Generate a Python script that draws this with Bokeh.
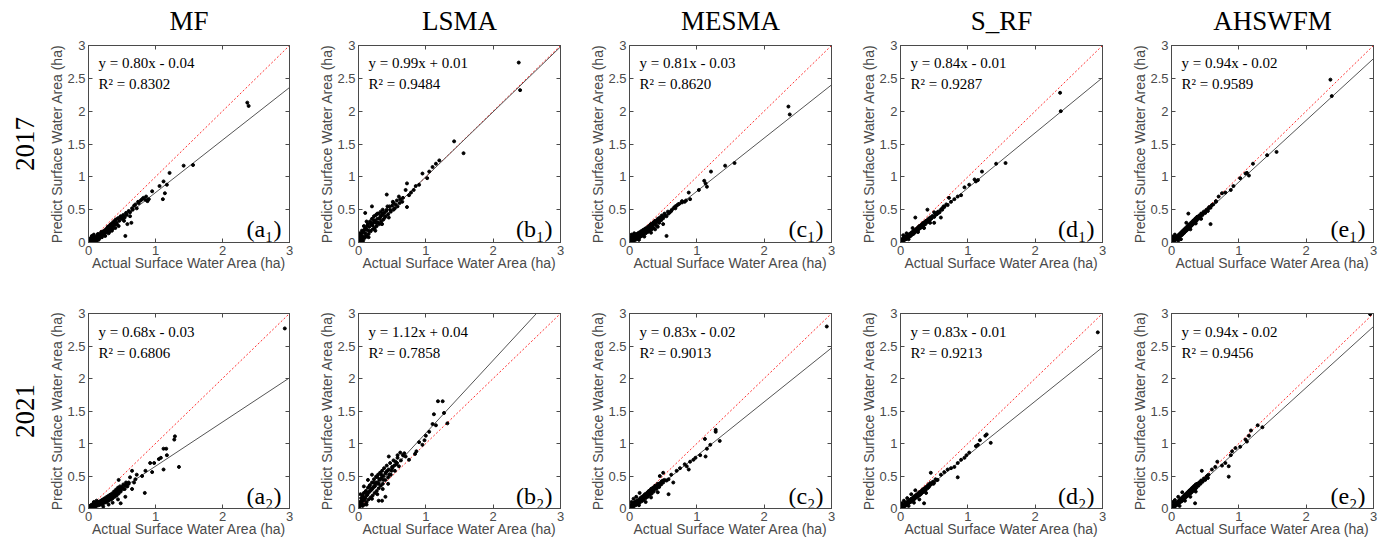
from bokeh.plotting import figure
from bokeh.layouts import column, row
from bokeh.models import (Range1d, LinearAxis, Title, FixedTicker, NumeralTickFormatter,
                          CustomLabelingPolicy)
from bokeh.core.properties import value
from bokeh.embed import file_html
from bokeh.resources import INLINE

methods = ["MF", "LSMA", "MESMA", "S_RF", "AHSWFM"]
years = ["2017", "2021"]
letters = ["a", "b", "c", "d", "e"]
subs = ["\u2081", "\u2082"]

slopes_2017 = [0.80, 0.99, 0.81, 0.84, 0.94]
inter_2017 = [-0.04, 0.01, -0.03, -0.01, -0.02]
r2_2017 = ["0.8302", "0.9484", "0.8620", "0.9287", "0.9589"]
slopes_2021 = [0.68, 1.12, 0.83, 0.83, 0.94]
inter_2021 = [-0.03, 0.04, -0.02, -0.01, -0.02]
r2_2021 = ["0.6806", "0.7858", "0.9013", "0.9213", "0.9456"]

x_ticks = [0, 1, 2, 3]
y_ticks = [0, 0.5, 1, 1.5, 2, 2.5, 3]
axis_limits = [0, 3]

# (actual, predicted) pairs
a1_pts = [(2.37, 2.13), (2.39, 2.08), (1.56, 1.18), (1.42, 1.17), (1.21, 1.06), (1.17, 0.88), (1.12, 0.93),
          (1.06, 0.86), (1.14, 0.75), (1.11, 0.66), (0.95, 0.78), (0.55, 0.10), (0.88, 0.63), (0.85, 0.65),
          (0.80, 0.66), (0.75, 0.60), (0.72, 0.52), (0.62, 0.40), (0.64, 0.30), (0.58, 0.28),
          (0.02, 0.01), (0.03, 0.05), (0.04, 0.02), (0.05, 0.08), (0.06, 0.03), (0.07, 0.04), (0.08, 0.06),
          (0.09, 0.02), (0.10, 0.07), (0.11, 0.05), (0.12, 0.09), (0.13, 0.06), (0.14, 0.10), (0.15, 0.07),
          (0.16, 0.12), (0.17, 0.09), (0.18, 0.13), (0.19, 0.10), (0.20, 0.15), (0.21, 0.12), (0.22, 0.17),
          (0.23, 0.13), (0.24, 0.18), (0.25, 0.15), (0.26, 0.20), (0.27, 0.16), (0.28, 0.22), (0.29, 0.18),
          (0.30, 0.24), (0.31, 0.20), (0.32, 0.26), (0.33, 0.22), (0.34, 0.28), (0.35, 0.24), (0.36, 0.30),
          (0.37, 0.26), (0.38, 0.32), (0.39, 0.27), (0.40, 0.34), (0.42, 0.30), (0.44, 0.37), (0.46, 0.33),
          (0.48, 0.40), (0.50, 0.36), (0.52, 0.42), (0.54, 0.38), (0.56, 0.45), (0.60, 0.48), (0.65, 0.52),
          (0.68, 0.56), (0.70, 0.58), (0.74, 0.62), (0.78, 0.64), (0.82, 0.68), (0.86, 0.70), (0.90, 0.66),
          (0.05, 0.10), (0.08, 0.12), (0.01, 0.06), (0.12, 0.03), (0.20, 0.08), (0.30, 0.14), (0.40, 0.22),
          (0.45, 0.25), (0.35, 0.18), (0.25, 0.10), (0.15, 0.04),
          (0.03, 0.00), (0.06, 0.06), (0.09, 0.08), (0.11, 0.02), (0.14, 0.13), (0.16, 0.06), (0.19, 0.16),
          (0.22, 0.14), (0.24, 0.11), (0.27, 0.19), (0.29, 0.24), (0.31, 0.16), (0.33, 0.27), (0.36, 0.21),
          (0.38, 0.29), (0.41, 0.35), (0.43, 0.27), (0.47, 0.38), (0.51, 0.40), (0.53, 0.33), (0.57, 0.42),
          (0.62, 0.46), (0.66, 0.50)]

b1_pts = [(2.38, 2.74), (2.40, 2.32), (1.42, 1.54), (1.56, 1.36), (1.20, 1.25), (1.15, 1.20), (1.10, 1.15),
          (1.05, 1.08), (1.02, 0.98), (0.95, 1.05), (0.90, 0.88), (0.85, 0.86), (0.82, 0.80), (0.78, 0.76),
          (0.72, 0.90), (0.75, 0.72), (0.72, 0.54), (0.42, 0.73), (0.10, 0.45), (0.20, 0.55), (0.52, 0.60),
          (0.60, 0.70), (0.65, 0.62), (0.70, 0.80),
          (0.01, 0.02), (0.02, 0.08), (0.03, 0.04), (0.04, 0.12), (0.05, 0.06), (0.06, 0.15), (0.07, 0.09),
          (0.08, 0.18), (0.09, 0.07), (0.10, 0.14), (0.11, 0.22), (0.12, 0.10), (0.13, 0.19), (0.14, 0.28),
          (0.15, 0.13), (0.16, 0.24), (0.17, 0.32), (0.18, 0.17), (0.19, 0.27), (0.20, 0.36), (0.21, 0.20),
          (0.22, 0.30), (0.23, 0.40), (0.24, 0.22), (0.25, 0.33), (0.26, 0.42), (0.27, 0.25), (0.28, 0.36),
          (0.29, 0.30), (0.30, 0.44), (0.31, 0.28), (0.32, 0.38), (0.33, 0.47), (0.34, 0.32), (0.35, 0.42),
          (0.36, 0.50), (0.37, 0.35), (0.38, 0.45), (0.40, 0.40), (0.42, 0.50), (0.44, 0.43), (0.46, 0.55),
          (0.48, 0.47), (0.50, 0.56), (0.52, 0.50), (0.55, 0.58), (0.58, 0.55), (0.62, 0.66), (0.66, 0.68),
          (0.05, 0.02), (0.15, 0.08), (0.25, 0.18), (0.35, 0.28), (0.45, 0.38), (0.02, 0.14), (0.08, 0.25),
          (0.12, 0.32),
          (0.03, 0.10), (0.05, 0.18), (0.07, 0.03), (0.09, 0.20), (0.11, 0.09), (0.13, 0.26), (0.16, 0.18),
          (0.18, 0.30), (0.21, 0.26), (0.23, 0.34), (0.26, 0.30), (0.28, 0.44), (0.31, 0.36), (0.33, 0.40),
          (0.36, 0.44), (0.39, 0.38), (0.41, 0.48), (0.43, 0.55), (0.47, 0.50), (0.51, 0.62), (0.54, 0.52),
          (0.57, 0.64), (0.61, 0.60)]

c1_pts = [(2.36, 2.07), (2.38, 1.95), (1.56, 1.21), (1.42, 1.17), (1.21, 1.08), (1.15, 0.85), (1.13, 0.90),
          (1.11, 0.94), (1.03, 0.80), (0.90, 0.66), (0.88, 0.76), (0.55, 0.10), (0.82, 0.62), (0.78, 0.63),
          (0.72, 0.58), (0.68, 0.52),
          (0.01, 0.03), (0.02, 0.08), (0.03, 0.01), (0.04, 0.05), (0.05, 0.10), (0.06, 0.02), (0.07, 0.06),
          (0.08, 0.11), (0.09, 0.04), (0.10, 0.08), (0.11, 0.13), (0.12, 0.06), (0.13, 0.10), (0.14, 0.15),
          (0.15, 0.08), (0.16, 0.12), (0.17, 0.17), (0.18, 0.10), (0.19, 0.14), (0.20, 0.19), (0.21, 0.12),
          (0.22, 0.16), (0.23, 0.21), (0.24, 0.14), (0.25, 0.18), (0.26, 0.23), (0.27, 0.16), (0.28, 0.20),
          (0.29, 0.25), (0.30, 0.18), (0.31, 0.23), (0.32, 0.28), (0.33, 0.20), (0.34, 0.26), (0.35, 0.30),
          (0.36, 0.22), (0.37, 0.28), (0.38, 0.33), (0.40, 0.26), (0.41, 0.32), (0.42, 0.36), (0.44, 0.30),
          (0.45, 0.38), (0.47, 0.34), (0.48, 0.41), (0.50, 0.37), (0.52, 0.44), (0.55, 0.40), (0.57, 0.47),
          (0.60, 0.46), (0.63, 0.50), (0.66, 0.53), (0.70, 0.56), (0.74, 0.59), (0.78, 0.61), (0.84, 0.64),
          (0.03, 0.12), (0.07, 0.14), (0.14, 0.04), (0.22, 0.09), (0.32, 0.15), (0.42, 0.24), (0.50, 0.28),
          (0.38, 0.20),
          (0.02, 0.04), (0.05, 0.05), (0.08, 0.07), (0.11, 0.10), (0.13, 0.14), (0.16, 0.09), (0.18, 0.15),
          (0.21, 0.17), (0.24, 0.20), (0.27, 0.21), (0.29, 0.20), (0.31, 0.27), (0.34, 0.22), (0.36, 0.31),
          (0.39, 0.30), (0.43, 0.34), (0.46, 0.36), (0.49, 0.39), (0.53, 0.41), (0.58, 0.44), (0.62, 0.48),
          (0.68, 0.55)]

d1_pts = [(2.37, 2.28), (2.38, 2.00), (1.56, 1.21), (1.42, 1.20), (1.21, 1.08), (1.15, 0.95), (1.12, 0.93),
          (1.10, 0.96), (1.02, 0.88), (0.95, 0.84), (0.90, 0.72), (0.85, 0.70), (0.80, 0.66), (0.75, 0.62),
          (0.72, 0.68), (0.70, 0.57), (0.62, 0.50), (0.55, 0.46), (0.40, 0.50), (0.22, 0.38), (0.60, 0.38),
          (0.50, 0.30),
          (0.01, 0.02), (0.02, 0.05), (0.03, 0.02), (0.04, 0.06), (0.05, 0.03), (0.06, 0.08), (0.07, 0.05),
          (0.08, 0.09), (0.09, 0.06), (0.10, 0.10), (0.11, 0.07), (0.12, 0.12), (0.13, 0.09), (0.14, 0.13),
          (0.15, 0.10), (0.16, 0.15), (0.17, 0.12), (0.18, 0.16), (0.19, 0.13), (0.20, 0.18), (0.21, 0.15),
          (0.22, 0.19), (0.23, 0.17), (0.24, 0.21), (0.25, 0.18), (0.26, 0.23), (0.27, 0.20), (0.28, 0.25),
          (0.29, 0.22), (0.30, 0.26), (0.31, 0.23), (0.32, 0.28), (0.33, 0.25), (0.34, 0.30), (0.35, 0.27),
          (0.36, 0.31), (0.37, 0.28), (0.38, 0.33), (0.40, 0.31), (0.41, 0.35), (0.43, 0.34), (0.44, 0.38),
          (0.46, 0.37), (0.48, 0.40), (0.50, 0.39), (0.52, 0.44), (0.54, 0.43), (0.56, 0.47), (0.58, 0.46),
          (0.62, 0.52), (0.65, 0.54), (0.68, 0.58), (0.04, 0.11), (0.09, 0.14), (0.12, 0.05), (0.18, 0.22),
          (0.26, 0.16), (0.35, 0.22), (0.44, 0.30), (0.50, 0.46),
          (0.02, 0.03), (0.05, 0.06), (0.08, 0.05), (0.10, 0.08), (0.13, 0.12), (0.16, 0.12), (0.19, 0.17),
          (0.21, 0.18), (0.24, 0.19), (0.27, 0.23), (0.30, 0.24), (0.32, 0.26), (0.35, 0.29), (0.37, 0.31),
          (0.40, 0.34), (0.42, 0.36), (0.45, 0.36), (0.47, 0.40), (0.52, 0.42), (0.56, 0.45), (0.60, 0.50),
          (0.64, 0.55)]

e1_pts = [(2.36, 2.48), (2.38, 2.23), (1.56, 1.38), (1.42, 1.33), (1.21, 1.20), (1.15, 1.02), (1.12, 1.06),
          (1.10, 1.05), (1.02, 0.98), (0.92, 0.86), (0.88, 0.80), (0.80, 0.76), (0.75, 0.75), (0.70, 0.70),
          (0.66, 0.62), (0.58, 0.28), (0.25, 0.44),
          (0.01, 0.01), (0.02, 0.04), (0.03, 0.02), (0.04, 0.06), (0.05, 0.03), (0.06, 0.07), (0.07, 0.05),
          (0.08, 0.09), (0.09, 0.06), (0.10, 0.11), (0.11, 0.08), (0.12, 0.13), (0.13, 0.10), (0.14, 0.15),
          (0.15, 0.11), (0.16, 0.17), (0.17, 0.13), (0.18, 0.19), (0.19, 0.15), (0.20, 0.21), (0.21, 0.17),
          (0.22, 0.23), (0.23, 0.19), (0.24, 0.25), (0.25, 0.21), (0.26, 0.27), (0.27, 0.23), (0.28, 0.29),
          (0.29, 0.25), (0.30, 0.31), (0.31, 0.27), (0.32, 0.33), (0.33, 0.29), (0.34, 0.35), (0.35, 0.31),
          (0.36, 0.37), (0.37, 0.33), (0.38, 0.39), (0.40, 0.36), (0.41, 0.41), (0.43, 0.39), (0.44, 0.44),
          (0.46, 0.42), (0.48, 0.47), (0.50, 0.45), (0.52, 0.50), (0.54, 0.48), (0.56, 0.54), (0.58, 0.53),
          (0.62, 0.58), (0.05, 0.12), (0.10, 0.03), (0.14, 0.05), (0.22, 0.30), (0.28, 0.20), (0.36, 0.29),
          (0.44, 0.36), (0.02, 0.09),
          (0.02, 0.02), (0.05, 0.06), (0.08, 0.07), (0.10, 0.09), (0.13, 0.12), (0.16, 0.15), (0.18, 0.16),
          (0.21, 0.20), (0.24, 0.22), (0.26, 0.25), (0.29, 0.27), (0.32, 0.30), (0.34, 0.32), (0.37, 0.35),
          (0.40, 0.39), (0.42, 0.40), (0.45, 0.43), (0.47, 0.45), (0.51, 0.48), (0.55, 0.52), (0.60, 0.57),
          (0.66, 0.63)]

a2_pts = [(2.93, 2.77), (1.35, 0.64), (1.29, 1.11), (1.28, 1.06), (1.17, 0.82), (1.16, 0.92), (1.12, 0.92),
          (1.12, 0.60), (1.08, 0.78), (1.05, 0.76), (0.98, 0.70), (0.95, 0.56), (0.92, 0.70), (0.85, 0.58),
          (0.84, 0.24), (0.80, 0.50), (0.72, 0.52), (0.70, 0.45), (0.68, 0.40), (0.65, 0.58), (0.62, 0.48),
          (0.60, 0.40), (0.56, 0.36), (0.48, 0.08), (0.45, 0.44), (0.55, 0.18), (0.65, 0.30),
          (0.01, 0.01), (0.02, 0.04), (0.03, 0.02), (0.04, 0.03), (0.05, 0.06), (0.06, 0.02), (0.07, 0.04),
          (0.08, 0.07), (0.09, 0.03), (0.10, 0.05), (0.11, 0.08), (0.12, 0.04), (0.13, 0.06), (0.14, 0.10),
          (0.15, 0.05), (0.16, 0.08), (0.17, 0.11), (0.18, 0.06), (0.19, 0.09), (0.20, 0.13), (0.21, 0.07),
          (0.22, 0.11), (0.23, 0.15), (0.24, 0.09), (0.25, 0.13), (0.26, 0.17), (0.27, 0.10), (0.28, 0.15),
          (0.29, 0.19), (0.30, 0.12), (0.31, 0.17), (0.32, 0.21), (0.33, 0.14), (0.34, 0.19), (0.35, 0.23),
          (0.36, 0.16), (0.37, 0.21), (0.38, 0.26), (0.39, 0.18), (0.40, 0.24), (0.41, 0.29), (0.42, 0.20),
          (0.43, 0.27), (0.44, 0.32), (0.45, 0.23), (0.46, 0.30), (0.47, 0.34), (0.48, 0.26), (0.50, 0.33),
          (0.52, 0.37), (0.54, 0.30), (0.56, 0.40), (0.58, 0.34), (0.12, 0.12), (0.08, 0.10), (0.22, 0.03),
          (0.30, 0.06), (0.36, 0.09), (0.44, 0.14), (0.05, 0.00),
          (0.02, 0.02), (0.04, 0.05), (0.07, 0.02), (0.09, 0.06), (0.11, 0.04), (0.13, 0.09), (0.16, 0.06),
          (0.18, 0.10), (0.20, 0.09), (0.23, 0.12), (0.25, 0.10), (0.27, 0.14), (0.30, 0.16), (0.33, 0.18),
          (0.35, 0.15), (0.38, 0.21), (0.40, 0.20), (0.43, 0.24), (0.46, 0.27), (0.49, 0.30), (0.52, 0.30),
          (0.55, 0.35), (0.60, 0.38)]

b2_pts = [(1.32, 1.31), (1.27, 1.47), (1.25, 1.65), (1.18, 1.65), (1.15, 1.28), (1.12, 1.45), (1.10, 1.30),
          (1.05, 1.18), (1.00, 1.12), (0.98, 1.05), (0.95, 0.98), (0.90, 1.02), (0.86, 0.88), (0.84, 0.84),
          (0.75, 0.75), (0.70, 0.80), (0.68, 0.85), (0.62, 0.86), (0.58, 0.82), (0.55, 0.72), (0.50, 0.62),
          (0.45, 0.80), (0.30, 0.12), (0.35, 0.12), (0.40, 0.18),
          (0.01, 0.02), (0.02, 0.10), (0.03, 0.05), (0.04, 0.16), (0.05, 0.08), (0.06, 0.20), (0.07, 0.12),
          (0.08, 0.24), (0.09, 0.06), (0.10, 0.16), (0.11, 0.27), (0.12, 0.10), (0.13, 0.21), (0.14, 0.32),
          (0.15, 0.14), (0.16, 0.26), (0.17, 0.36), (0.18, 0.17), (0.19, 0.30), (0.20, 0.40), (0.21, 0.20),
          (0.22, 0.33), (0.23, 0.45), (0.24, 0.24), (0.25, 0.37), (0.26, 0.49), (0.27, 0.27), (0.28, 0.40),
          (0.29, 0.52), (0.30, 0.31), (0.31, 0.44), (0.32, 0.55), (0.33, 0.35), (0.34, 0.47), (0.35, 0.58),
          (0.36, 0.38), (0.37, 0.50), (0.38, 0.62), (0.40, 0.44), (0.41, 0.56), (0.42, 0.66), (0.44, 0.48),
          (0.45, 0.60), (0.47, 0.70), (0.48, 0.52), (0.50, 0.64), (0.52, 0.74), (0.54, 0.58), (0.56, 0.68),
          (0.58, 0.78), (0.60, 0.65), (0.63, 0.74), (0.66, 0.82), (0.06, 0.04), (0.12, 0.06), (0.20, 0.15),
          (0.28, 0.22), (0.36, 0.30), (0.44, 0.38), (0.03, 0.22), (0.08, 0.34), (0.14, 0.44), (0.20, 0.52),
          (0.02, 0.05), (0.04, 0.10), (0.05, 0.14), (0.07, 0.18), (0.09, 0.14), (0.10, 0.25), (0.12, 0.20),
          (0.14, 0.24), (0.16, 0.34), (0.18, 0.28), (0.20, 0.30), (0.22, 0.40), (0.24, 0.34), (0.26, 0.40),
          (0.28, 0.48), (0.30, 0.38), (0.32, 0.45), (0.34, 0.52), (0.37, 0.44), (0.40, 0.54), (0.43, 0.58),
          (0.46, 0.52), (0.49, 0.58), (0.53, 0.66), (0.57, 0.70)]

c2_pts = [(2.93, 2.80), (1.34, 1.04), (1.28, 1.18), (1.28, 1.21), (1.20, 0.98), (1.15, 0.92), (1.12, 1.07),
          (1.13, 0.80), (1.05, 0.82), (0.98, 0.78), (0.95, 0.75), (0.90, 0.72), (0.88, 0.60), (0.85, 0.65),
          (0.82, 0.68), (0.75, 0.62), (0.70, 0.58), (0.62, 0.52), (0.58, 0.45), (0.58, 0.22), (0.65, 0.40),
          (0.50, 0.55), (0.45, 0.50),
          (0.01, 0.02), (0.02, 0.05), (0.03, 0.01), (0.04, 0.04), (0.05, 0.08), (0.06, 0.03), (0.07, 0.06),
          (0.08, 0.10), (0.09, 0.05), (0.10, 0.08), (0.11, 0.12), (0.12, 0.07), (0.13, 0.10), (0.14, 0.14),
          (0.15, 0.09), (0.16, 0.13), (0.17, 0.17), (0.18, 0.11), (0.19, 0.15), (0.20, 0.19), (0.21, 0.13),
          (0.22, 0.18), (0.23, 0.22), (0.24, 0.16), (0.25, 0.20), (0.26, 0.24), (0.27, 0.18), (0.28, 0.23),
          (0.29, 0.27), (0.30, 0.21), (0.31, 0.25), (0.32, 0.30), (0.33, 0.23), (0.34, 0.28), (0.35, 0.32),
          (0.36, 0.26), (0.37, 0.31), (0.38, 0.35), (0.40, 0.30), (0.41, 0.35), (0.42, 0.38), (0.44, 0.33),
          (0.45, 0.39), (0.47, 0.37), (0.48, 0.42), (0.50, 0.40), (0.52, 0.44), (0.55, 0.43), (0.06, 0.15),
          (0.10, 0.18), (0.15, 0.24), (0.14, 0.05), (0.24, 0.10), (0.32, 0.17), (0.42, 0.25), (0.03, 0.10),
          (0.02, 0.03), (0.04, 0.07), (0.06, 0.06), (0.08, 0.07), (0.10, 0.11), (0.12, 0.10), (0.14, 0.11),
          (0.16, 0.15), (0.18, 0.14), (0.20, 0.16), (0.22, 0.20), (0.24, 0.19), (0.26, 0.21), (0.28, 0.26),
          (0.30, 0.24), (0.32, 0.26), (0.34, 0.31), (0.36, 0.29), (0.38, 0.31), (0.40, 0.33), (0.43, 0.36),
          (0.46, 0.38), (0.50, 0.43)]

d2_pts = [(2.93, 2.71), (1.34, 1.01), (1.28, 1.14), (1.26, 1.12), (1.18, 1.05), (1.15, 0.98), (1.12, 0.96),
          (1.02, 0.86), (0.98, 0.82), (0.95, 0.78), (0.90, 0.75), (0.85, 0.70), (0.85, 0.48), (0.80, 0.64),
          (0.75, 0.62), (0.70, 0.60), (0.65, 0.56), (0.60, 0.52), (0.45, 0.55), (0.35, 0.08), (0.55, 0.44),
          (0.01, 0.01), (0.02, 0.04), (0.03, 0.02), (0.04, 0.06), (0.05, 0.03), (0.06, 0.07), (0.07, 0.04),
          (0.08, 0.09), (0.09, 0.06), (0.10, 0.10), (0.11, 0.07), (0.12, 0.11), (0.13, 0.09), (0.14, 0.13),
          (0.15, 0.10), (0.16, 0.15), (0.17, 0.12), (0.18, 0.16), (0.19, 0.13), (0.20, 0.18), (0.21, 0.15),
          (0.22, 0.20), (0.23, 0.17), (0.24, 0.21), (0.25, 0.18), (0.26, 0.23), (0.27, 0.20), (0.28, 0.25),
          (0.29, 0.21), (0.30, 0.26), (0.31, 0.23), (0.32, 0.28), (0.33, 0.25), (0.34, 0.30), (0.35, 0.27),
          (0.36, 0.31), (0.37, 0.28), (0.38, 0.33), (0.40, 0.31), (0.41, 0.36), (0.43, 0.35), (0.44, 0.39),
          (0.46, 0.38), (0.48, 0.41), (0.50, 0.40), (0.52, 0.45), (0.05, 0.12), (0.10, 0.16), (0.16, 0.22),
          (0.22, 0.28), (0.12, 0.04), (0.20, 0.09), (0.28, 0.14), (0.38, 0.24), (0.02, 0.08),
          (0.02, 0.02), (0.04, 0.04), (0.06, 0.05), (0.08, 0.07), (0.10, 0.08), (0.12, 0.09), (0.14, 0.11),
          (0.16, 0.13), (0.18, 0.14), (0.20, 0.16), (0.22, 0.17), (0.24, 0.19), (0.26, 0.21), (0.28, 0.22),
          (0.30, 0.24), (0.32, 0.26), (0.34, 0.28), (0.36, 0.29), (0.39, 0.32), (0.42, 0.33), (0.45, 0.37),
          (0.49, 0.38), (0.54, 0.44)]

e2_pts = [(2.95, 2.99), (1.35, 1.25), (1.28, 1.28), (1.18, 1.20), (1.15, 1.12), (1.12, 1.03), (1.10, 1.06),
          (1.02, 0.95), (0.95, 0.93), (0.90, 0.88), (0.88, 0.82), (0.85, 0.65), (0.85, 0.49), (0.80, 0.70),
          (0.75, 0.66), (0.68, 0.72), (0.65, 0.64), (0.60, 0.60), (0.45, 0.58), (0.35, 0.08), (0.55, 0.52),
          (0.01, 0.01), (0.02, 0.05), (0.03, 0.02), (0.04, 0.06), (0.05, 0.03), (0.06, 0.08), (0.07, 0.05),
          (0.08, 0.09), (0.09, 0.06), (0.10, 0.11), (0.11, 0.08), (0.12, 0.13), (0.13, 0.10), (0.14, 0.15),
          (0.15, 0.11), (0.16, 0.17), (0.17, 0.13), (0.18, 0.19), (0.19, 0.15), (0.20, 0.21), (0.21, 0.17),
          (0.22, 0.23), (0.23, 0.19), (0.24, 0.25), (0.25, 0.21), (0.26, 0.27), (0.27, 0.23), (0.28, 0.29),
          (0.29, 0.24), (0.30, 0.31), (0.31, 0.26), (0.32, 0.33), (0.33, 0.28), (0.34, 0.35), (0.35, 0.30),
          (0.36, 0.37), (0.37, 0.32), (0.38, 0.38), (0.40, 0.35), (0.41, 0.40), (0.43, 0.38), (0.44, 0.43),
          (0.46, 0.41), (0.48, 0.46), (0.50, 0.44), (0.52, 0.49), (0.54, 0.47), (0.05, 0.13), (0.10, 0.18),
          (0.16, 0.25), (0.12, 0.04), (0.20, 0.12), (0.28, 0.18), (0.36, 0.26), (0.02, 0.10),
          (0.02, 0.03), (0.04, 0.04), (0.06, 0.06), (0.08, 0.08), (0.10, 0.09), (0.12, 0.11), (0.14, 0.13),
          (0.16, 0.15), (0.18, 0.17), (0.20, 0.19), (0.22, 0.21), (0.24, 0.23), (0.26, 0.25), (0.28, 0.27),
          (0.30, 0.28), (0.32, 0.30), (0.34, 0.32), (0.36, 0.34), (0.39, 0.37), (0.42, 0.40), (0.45, 0.42),
          (0.49, 0.45), (0.53, 0.50)]

points_2017 = [a1_pts, b1_pts, c1_pts, d1_pts, e1_pts]
points_2021 = [a2_pts, b2_pts, c2_pts, d2_pts, e2_pts]

SERIF = "Liberation Serif"
SANS = "Liberation Sans"
AX_COL = "#4a4a4a"


def make_panel(ci, ri):
    pts = points_2017[ci] if ri == 0 else points_2021[ci]
    s = slopes_2017[ci] if ri == 0 else slopes_2021[ci]
    b = inter_2017[ci] if ri == 0 else inter_2021[ci]
    r2 = r2_2017[ci] if ri == 0 else r2_2021[ci]

    w = 298 if ci == 0 else 271
    h = 293 if ri == 0 else 246
    p = figure(width=w, height=h, x_range=Range1d(*axis_limits), y_range=Range1d(*axis_limits),
               output_backend="svg", toolbar_location=None,
               min_border_left=87 if ci == 0 else 60, min_border_right=5,
               min_border_top=45 if ri == 0 else 20, min_border_bottom=51 if ri == 0 else 30)
    p.grid.visible = False
    p.outline_line_color = AX_COL
    p.background_fill_color = "white"
    p.border_fill_color = "white"

    for ax, ticks in ((p.xaxis[0], x_ticks), (p.yaxis[0], y_ticks)):
        ax.ticker = FixedTicker(ticks=ticks)
        ax.formatter = NumeralTickFormatter(format="0.[0]")
        ax.major_tick_in = 4
        ax.major_tick_out = 0
        ax.minor_tick_line_color = None
        ax.axis_line_color = AX_COL
        ax.major_tick_line_color = AX_COL
        ax.major_label_text_font = SANS
        ax.major_label_text_font_size = "13px"
        ax.major_label_text_color = AX_COL
        ax.axis_label_text_font = SANS
        ax.axis_label_text_font_size = "14px"
        ax.axis_label_text_font_style = "normal"
        ax.axis_label_text_color = AX_COL
        ax.major_label_standoff = 3
    p.xaxis.axis_label_standoff = -3
    p.yaxis.axis_label_standoff = -1
    p.xaxis.axis_label = "Actual Surface Water Area (ha)"
    p.yaxis.axis_label = "Predict Surface Water Area (ha)"

    for side, ticks in (("above", x_ticks), ("right", y_ticks)):
        ax = LinearAxis(ticker=FixedTicker(ticks=ticks), major_label_text_font_size="4px",
                        major_label_policy=CustomLabelingPolicy(
                            code="for (const i of indices) indices.unset(i)"),
                        major_label_standoff=0, major_tick_in=4, major_tick_out=0,
                        minor_tick_line_color=None, axis_line_color=AX_COL,
                        major_tick_line_color=AX_COL)
        p.add_layout(ax, side)

    xs = [q[0] for q in pts]
    ys = [q[1] for q in pts]
    p.line(axis_limits, axis_limits, line_color="#ff3030", line_dash="2 2", line_width=1)
    p.line(axis_limits, [s * axis_limits[0] + b, s * axis_limits[1] + b], line_color="#555555", line_width=1)
    p.scatter(xs, ys, size=3, color="black")

    sign = "+" if b >= 0 else "-"
    eq = f"y = {s:.2f}x {sign} {abs(b):.2f}"
    ty = 2.74 if ri == 0 else 2.71
    p.text(x=[0.15], y=[ty], text=[eq], text_font=value(SERIF), text_font_size="15px",
           text_baseline="middle", text_color="black")
    p.text(x=[0.15], y=[ty - 0.32], text=["R\u00b2 = " + r2], text_font=value(SERIF), text_font_size="15px",
           text_baseline="middle", text_color="black")
    p.text(x=[2.88], y=[0.2], text=["(" + letters[ci] + subs[ri] + ")"], text_font=value(SERIF),
           text_font_size="24px", text_baseline="middle", text_align="right", text_color="black")

    if ri == 0:
        p.title.text = methods[ci]
        p.title.align = "center"
        p.title.text_font = SERIF
        p.title.text_font_size = "27px"
        p.title.text_font_style = "normal"
        p.title.text_color = "black"
        p.title.standoff = 7
    if ci == 0:
        p.add_layout(Title(text=years[ri], align="center", text_font=SERIF, text_font_size="27px",
                           text_font_style="normal", text_color="black", standoff=26), "left")
    return p


row1 = row(*[make_panel(c, 0) for c in range(5)])
row2 = row(*[make_panel(c, 1) for c in range(5)])
layout = column(row1, row2)

open("out.html", "w").write(file_html(layout, INLINE))
